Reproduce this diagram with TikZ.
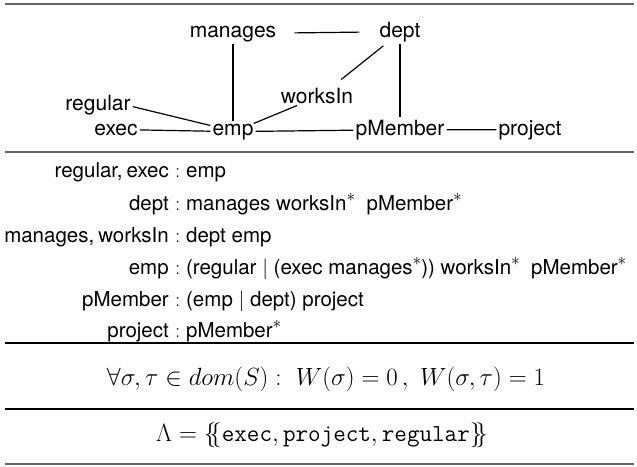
\documentclass[tikz,border=0pt]{standalone}
\usepackage{fontspec}
\setsansfont{TeX Gyre Heros}
% Kleene star set as a raised math asterisk
\newcommand{\kstar}{\raisebox{0.40em}{\fontsize{18}{18}\selectfont$\ast$}}
\begin{document}
\begin{tikzpicture}[x=1pt,y=-1pt,
  font=\fontsize{21}{25}\selectfont\sffamily,
  lbl/.style={inner sep=2pt,anchor=base},
  edge/.style={line width=1.2pt},
  heavyrule/.style={line width=2.2pt,draw=black!60},
  lightrule/.style={line width=1.3pt,draw=black},
  lhs/.style={inner sep=0pt,anchor=base east,font=\fontsize{20.5}{25}\selectfont\sffamily},
  rhs/.style={inner sep=0pt,anchor=base west,font=\fontsize{20.5}{25}\selectfont\sffamily},
  formula/.style={inner sep=0pt,anchor=base,font=\fontsize{24.4}{29}\selectfont}]
\useasboundingbox (0,0) rectangle (637,466);

% horizontal rules separating the panels
\draw[heavyrule] (5,4) -- (634,4);
\draw[heavyrule] (5,152) -- (634,152);
\draw[lightrule] (5,343) -- (634,343);
\draw[lightrule] (5,409) -- (634,409);
\draw[heavyrule] (5,464) -- (634,464);

% schema graph
\node[lbl] (manages) at (233,37) {manages};
\node[lbl] (dept)    at (400,37) {dept};
\node[lbl] (worksIn) at (317,103) {worksIn};
\node[lbl] (regular) at (98,110) {regular};
\node[lbl] (exec)    at (116,135) {exec};
\node[lbl] (emp)     at (233,135) {emp};
\node[lbl] (pMember) at (400,135) {pMember};
\node[lbl] (project) at (530,135) {project};

\draw[edge,shorten <=16pt,shorten >=18pt] (manages) -- (dept);
\draw[edge] (manages.south) -- (emp.north);
\draw[edge] (dept.south) -- (pMember.north);
\draw[edge] ([xshift=6pt,yshift=-2pt]dept.south west) -- ([xshift=-14pt,yshift=6pt]worksIn.north east);
\draw[edge] ([xshift=-20pt]worksIn.south) -- ([xshift=-2pt,yshift=-2pt]emp.north east);
\draw[edge] ([yshift=-2pt]regular.east) -- ([yshift=-4pt]emp.north west);
\draw[edge] (exec) -- (emp);
\draw[edge] (emp) -- (pMember);
\draw[edge] (pMember) -- (project);

% type declarations
\node[lhs] (l1) at (169,177) {regular,\kern0.2em exec};
\node[rhs] (r1) at (175,177) {$:\;$emp};
\node[lhs] (l2) at (169,210) {dept};
\node[rhs] (r2) at (175,210) {$:\;$manages worksIn\kstar\ \ pMember\kstar};
\node[lhs] (l3) at (169,242) {manages,\kern0.2em worksIn};
\node[rhs] (r3) at (175,242) {$:\;$dept emp};
\node[lhs] (l4) at (169,274) {emp};
\node[rhs] (r4) at (175,274) {$:\;$(regular $|$ (exec manages\kstar)) worksIn\kstar\ \ pMember\kstar};
\node[lhs] (l5) at (169,306) {pMember};
\node[rhs] (r5) at (175,306) {$:\;$(emp $|$ dept) project};
\node[lhs] (l6) at (169,337) {project};
\node[rhs] (r6) at (175,337) {$:\;$pMember\kstar};

% weights and label set
\node[formula] (weights) at (326,385)
  {$\forall\sigma,\tau\in dom(S):\ W(\sigma)=0\,,\ W(\sigma,\tau)=1$};
\node[formula] (labels) at (322,441)
  {$\Lambda=\{\mskip-5mu\{\texttt{exec},\texttt{project},\texttt{regular}\}\mskip-5mu\}$};
\end{tikzpicture}
\end{document}
